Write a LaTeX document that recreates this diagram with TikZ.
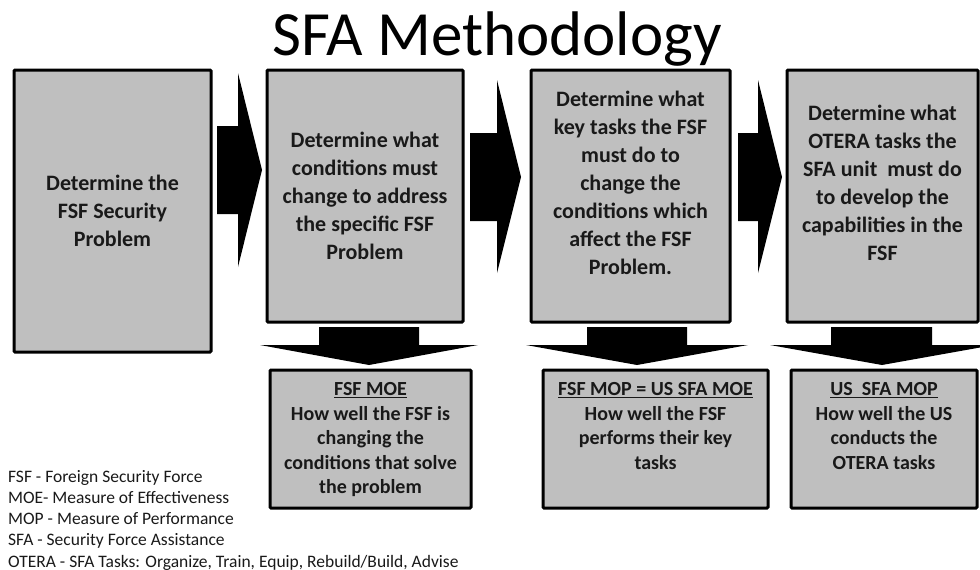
\documentclass[tikz,border=0pt]{standalone}
\usepackage{fontspec}
\setmainfont{Carlito}
\usetikzlibrary{calc, positioning}
\definecolor{boxgray}{RGB}{191,191,191}
\tikzset{
  stepbox/.style={draw=black, line width=3pt, fill=boxgray, rounded corners=1pt, inner sep=0pt},
  steptext/.style={align=center, inner sep=0pt, text=black!90, font=\fontsize{22}{28}\selectfont\bfseries},
  meastext/.style={align=center, inner sep=0pt, text=black!90, font=\fontsize{20}{24.5}\selectfont\bfseries},
  blockarrow/.style={fill=black}
}

\begin{document}
\begin{tikzpicture}[x=1pt, y=-1pt]
  \useasboundingbox (0,0) rectangle (980,570);
  \clip (0,0) rectangle (980,570);

  % title %
  \node[anchor=base, inner sep=0pt, font=\fontsize{63}{70}\selectfont] (title) at (497,55) {SFA Methodology};

  % step boxes %
  \node[stepbox, minimum width=197pt, minimum height=282pt] (det1) at (112.5,211) {};
  \node[stepbox, minimum width=196pt, minimum height=252pt] (det2) at (365,196) {};
  \node[stepbox, minimum width=199pt, minimum height=252pt] (det3) at (630.5,196) {};
  \node[stepbox, minimum width=191pt, minimum height=252pt] (det4) at (882.5,196) {};

  \node[steptext] (det1text) at (det1) {Determine the\\FSF Security\\Problem};
  \node[steptext] (det2text) at (det2) {Determine what\\conditions must\\change to address\\the specific FSF\\Problem};
  \node[steptext] (det3text) at ($(det3.center)+(0,-13)$) {Determine what\\key tasks the FSF\\must do to\\change the\\conditions which\\affect the FSF\\Problem.};
  \node[steptext] (det4text) at ($(det4.center)+(0,-13)$) {Determine what\\OTERA tasks the\\SFA unit \ must do\\to develop the\\capabilities in the\\FSF};

  % measure boxes %
  \node[stepbox, minimum width=201pt, minimum height=138pt] (meas1) at (370.5,439) {};
  \node[stepbox, minimum width=225pt, minimum height=138pt] (meas2) at (655.5,439) {};
  \node[stepbox, minimum width=186pt, minimum height=138pt] (meas3) at (884,439) {};

  \node[meastext, below=14pt of meas1.north] (meas1text) {\underline{FSF MOE}\\How well the FSF is\\changing the\\conditions that solve\\the problem};
  \node[meastext, below=14pt of meas2.north] (meas2text) {\underline{FSF MOP = US SFA MOE}\\How well the FSF\\performs their key\\tasks};
  \node[meastext, below=14pt of meas3.north] (meas3text) {\underline{US \ SFA MOP}\\How well the US\\conducts the\\OTERA tasks};

  % arrows %
  \fill[blockarrow] (217,126) -- (238,126) -- (238,73) -- (262,170) -- (238,267) -- (238,214) -- (217,214) -- cycle;
  \fill[blockarrow] (470,133) -- (497,133) -- (497,80) -- (521,177) -- (497,273) -- (497,221) -- (470,221) -- cycle;
  \fill[blockarrow] (738,133) -- (758,133) -- (758,80) -- (782,177) -- (758,273) -- (758,221) -- (738,221) -- cycle;

  \fill[blockarrow] (319,327) -- (419,327) -- (419,345) -- (478,345) -- (369,365) -- (260,345) -- (319,345) -- cycle;
  \fill[blockarrow] (587,327) -- (687,327) -- (687,345) -- (748,345) -- (637,365) -- (526,345) -- (587,345) -- cycle;
  \fill[blockarrow] (831,327) -- (932,327) -- (932,345) -- (994,345) -- (882,365) -- (770,345) -- (831,345) -- cycle;

  % legend %
  \node[anchor=base west, align=left, inner sep=0pt, text=black!90, font=\fontsize{17.5}{21.25}\selectfont] (legend) at (8,567)
    {FSF - Foreign Security Force\\MOE- Measure of Effectiveness\\MOP - Measure of Performance\\SFA - Security Force Assistance\\OTERA - SFA Tasks: Organize, Train, Equip, Rebuild/Build, Advise};
\end{tikzpicture}
\end{document}
